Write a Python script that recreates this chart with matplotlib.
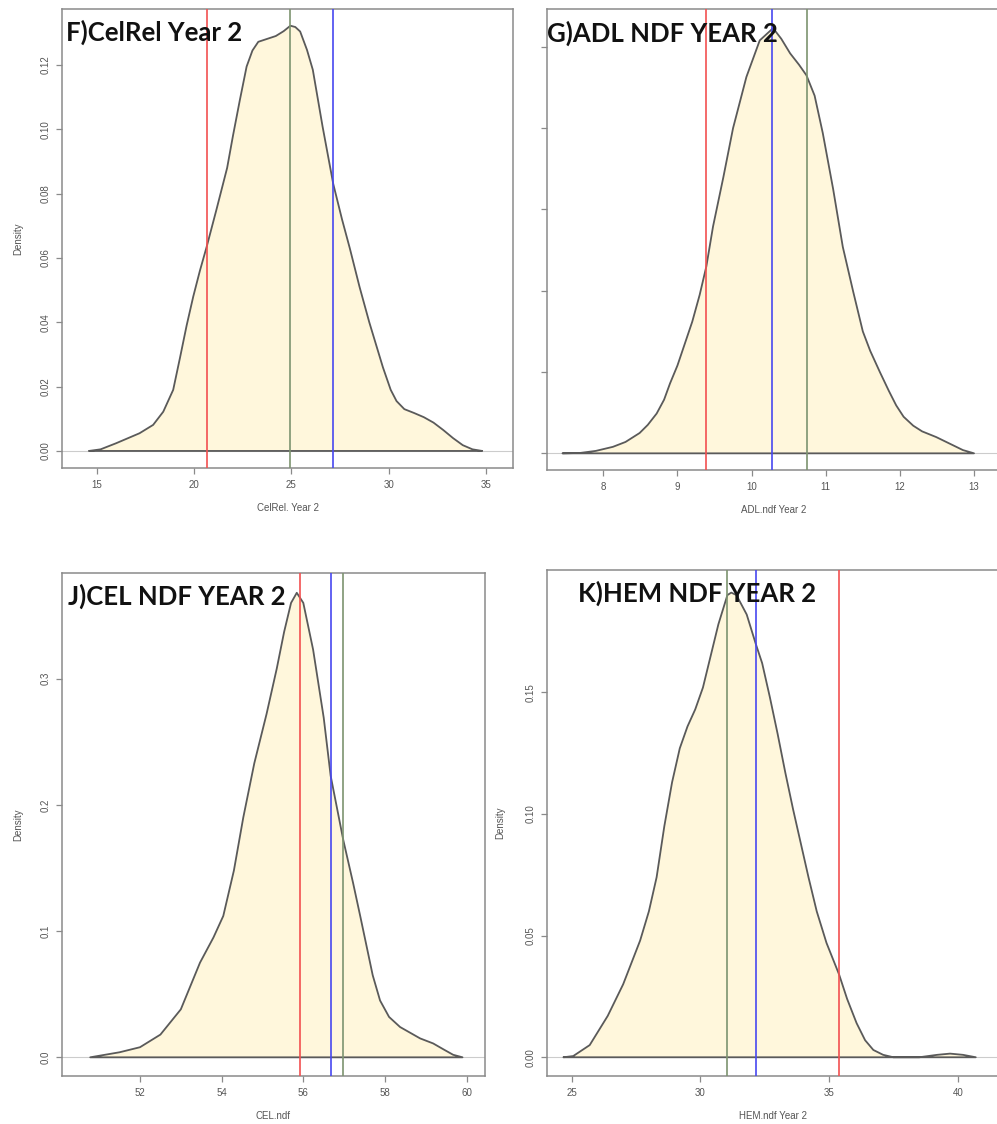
import matplotlib
matplotlib.use("Agg")
import matplotlib.pyplot as plt
import numpy as np

W, H = 997, 1124

# ---- data (density curves + reference lines) ----
f_x = [14.6, 15.2, 16.0, 17.2, 17.9, 18.42, 18.93, 19.28, 19.62, 19.96, 20.3, 20.65,
       21.15, 21.7, 22.0, 22.35, 22.7, 23.0, 23.3, 23.7, 24.2, 24.6, 24.95, 25.2,
       25.45, 25.8, 26.1, 26.6, 27.15, 27.6, 28.0, 28.5, 29.0, 29.4, 29.7, 30.1,
       30.4, 30.8, 31.3, 31.8, 32.3, 32.8, 33.3, 33.8, 34.3, 34.8]
f_d = [0.0, 0.0005, 0.0024, 0.0055, 0.0081, 0.0122, 0.019, 0.029, 0.039, 0.048,
       0.056, 0.0635, 0.075, 0.088, 0.098, 0.109, 0.1195, 0.1245, 0.1272, 0.128,
       0.129, 0.1305, 0.1322, 0.1318, 0.1304, 0.1247, 0.1185, 0.1009, 0.083, 0.072,
       0.063, 0.051, 0.040, 0.032, 0.026, 0.019, 0.0155, 0.013, 0.0118, 0.0105,
       0.0088, 0.0065, 0.004, 0.0018, 0.0005, 0.0]
f_lines = [20.68, 24.93, 27.12]

g_x = [7.45, 7.69, 7.9, 8.13, 8.3, 8.49, 8.6, 8.72, 8.82, 8.9, 9.0, 9.1, 9.2, 9.3,
       9.39, 9.48, 9.62, 9.75, 9.93, 10.11, 10.29, 10.4, 10.52, 10.64, 10.74, 10.85,
       10.96, 11.1, 11.23, 11.37, 11.5, 11.6, 11.73, 11.85, 11.95, 12.05, 12.18,
       12.3, 12.49, 12.67, 12.85, 13.0]
g_d = [0.0, 0.0005, 0.003, 0.008, 0.014, 0.025, 0.035, 0.049, 0.066, 0.086, 0.108,
       0.135, 0.162, 0.195, 0.23, 0.279, 0.34, 0.40, 0.463, 0.508, 0.523, 0.51,
       0.492, 0.478, 0.465, 0.44, 0.394, 0.325, 0.254, 0.199, 0.15, 0.126, 0.100,
       0.077, 0.059, 0.045, 0.034, 0.027, 0.020, 0.012, 0.004, 0.0]
g_lines = [9.39, 10.27, 10.75]

j_x = [50.78, 51.5, 52.0, 52.5, 53.0, 53.47, 53.8, 54.04, 54.3, 54.53, 54.8, 55.1,
       55.35, 55.53, 55.7, 55.84, 56.0, 56.24, 56.5, 56.67, 56.98, 57.22, 57.4,
       57.55, 57.7, 57.88, 58.1, 58.37, 58.86, 59.18, 59.45, 59.67, 59.9]
j_d = [0.0, 0.004, 0.008, 0.018, 0.038, 0.075, 0.095, 0.112, 0.148, 0.19, 0.233,
       0.272, 0.308, 0.337, 0.36, 0.368, 0.36, 0.323, 0.269, 0.223, 0.172, 0.138,
       0.111, 0.088, 0.065, 0.045, 0.032, 0.024, 0.015, 0.011, 0.006, 0.002, 0.0]
j_lines = [55.93, 56.67, 56.98]

k_x = [24.68, 25.06, 25.7, 26.4, 27.0, 27.66, 28.0, 28.3, 28.6, 28.9, 29.2, 29.5,
       29.8, 30.1, 30.4, 30.7, 31.05, 31.2, 31.4, 31.8, 32.15, 32.4, 32.7, 33.0,
       33.3, 33.6, 33.9, 34.2, 34.52, 34.9, 35.39, 35.7, 36.07, 36.4, 36.72, 37.1,
       37.5, 38.5, 39.2, 39.7, 40.2, 40.7]
k_d = [0.0, 0.0005, 0.005, 0.017, 0.030, 0.048, 0.060, 0.074, 0.095, 0.113, 0.127,
       0.136, 0.143, 0.152, 0.165, 0.178, 0.19, 0.191, 0.19, 0.182, 0.17, 0.162,
       0.148, 0.133, 0.117, 0.102, 0.088, 0.074, 0.06, 0.047, 0.034, 0.024, 0.014,
       0.007, 0.003, 0.001, 0.0, 0.0, 0.001, 0.0015, 0.001, 0.0]
k_lines = [35.39, 32.15, 31.05]

RED, BLUE, GREEN = "#f25050", "#4848f0", "#7d9470"

panels = [
    dict(title="F)CelRel Year 2", x=f_x, d=f_d, lines=f_lines, cols=[RED, GREEN, BLUE],
         box=(62, 9, 513, 468), xlim=(13.22, 36.38), ylim=(-0.0053, 0.1374),
         xt=[15, 20, 25, 30, 35], yt=[0, 0.02, 0.04, 0.06, 0.08, 0.10, 0.12], yfmt="{:.2f}",
         xlabel="CelRel. Year 2", dens=18, tpos=(66, 41)),
    dict(title="G)ADL NDF YEAR 2", x=g_x, d=g_d, lines=g_lines, cols=[RED, BLUE, GREEN],
         box=(546.7, 9, 1000, 470), xlim=(7.237, 13.35), ylim=(-0.0205, 0.5466),
         xt=[8, 9, 10, 11, 12, 13], yt=[0, 0.1, 0.2, 0.3, 0.4, 0.5], yfmt=None,
         xlabel="ADL.ndf Year 2", dens=None, tpos=(547, 42)),
    dict(title="J)CEL NDF YEAR 2", x=j_x, d=j_d, lines=j_lines, cols=[RED, BLUE, GREEN],
         box=(62, 572.6, 485, 1076), xlim=(50.09, 60.45), ylim=(-0.0148, 0.384),
         xt=[52, 54, 56, 58, 60], yt=[0, 0.1, 0.2, 0.3], yfmt="{:.1f}",
         xlabel="CEL.ndf", dens=18, tpos=(68, 605)),
    dict(title="K)HEM NDF YEAR 2", x=k_x, d=k_d, lines=k_lines, cols=[RED, BLUE, GREEN],
         box=(546.7, 570, 1000, 1076), xlim=(24.03, 41.64), ylim=(-0.0077, 0.2003),
         xt=[25, 30, 35, 40], yt=[0, 0.05, 0.10, 0.15], yfmt="{:.2f}",
         xlabel="HEM.ndf Year 2", dens=500, tpos=(578, 602)),
]

fig = plt.figure(figsize=(W / 100, H / 100), dpi=100)
tick_font = dict(family=["Liberation Sans", "DejaVu Sans"], size=7, color="#555555")

for p in panels:
    x0, y0, x1, y1 = p["box"]
    ax = fig.add_axes([x0 / W, 1 - y1 / H, (x1 - x0) / W, (y1 - y0) / H])
    ax.set_xlim(*p["xlim"])
    ax.set_ylim(*p["ylim"])
    ax.axhline(0, color="#cccccc", lw=0.8, zorder=1)
    ax.fill(p["x"], p["d"], facecolor="#fff7dc", edgecolor="#5a5a5a", lw=1.3,
            joinstyle="round", zorder=2)
    for v, c in zip(p["lines"], p["cols"]):
        ax.axvline(v, color=c, lw=1.2, zorder=3)
    for s in ax.spines.values():
        s.set_color("#8a8a8a")
        s.set_linewidth(1.1)
    ax.set_xticks(p["xt"])
    ax.set_xticklabels([str(t) for t in p["xt"]], **tick_font)
    ax.set_yticks(p["yt"])
    if p["yfmt"]:
        ax.set_yticklabels([p["yfmt"].format(t) for t in p["yt"]], rotation=90,
                           va="center", **tick_font)
    else:
        ax.set_yticklabels([])
    ax.tick_params(length=4, width=0.9, color="#8a8a8a", pad=5)
    ax.tick_params(axis="y", pad=4)

    # x label centred under the visible part of the frame
    xc = (x0 + min(x1, 1000)) / 2
    fig.text(xc / W, 1 - (y1 + 40) / H, p["xlabel"], ha="center", va="center", **tick_font)
    if p["dens"] is not None:
        fig.text(p["dens"] / W, 1 - (y0 + y1) / 2 / H, "Density", rotation=90,
                 ha="center", va="center", **tick_font)
    fig.text(p["tpos"][0] / W, 1 - p["tpos"][1] / H, p["title"], ha="left",
             va="baseline", fontsize=18.5, fontweight="bold",
             family=["Lato", "DejaVu Sans"], color="#111111", zorder=10)

fig.savefig("out.png", dpi=100)
